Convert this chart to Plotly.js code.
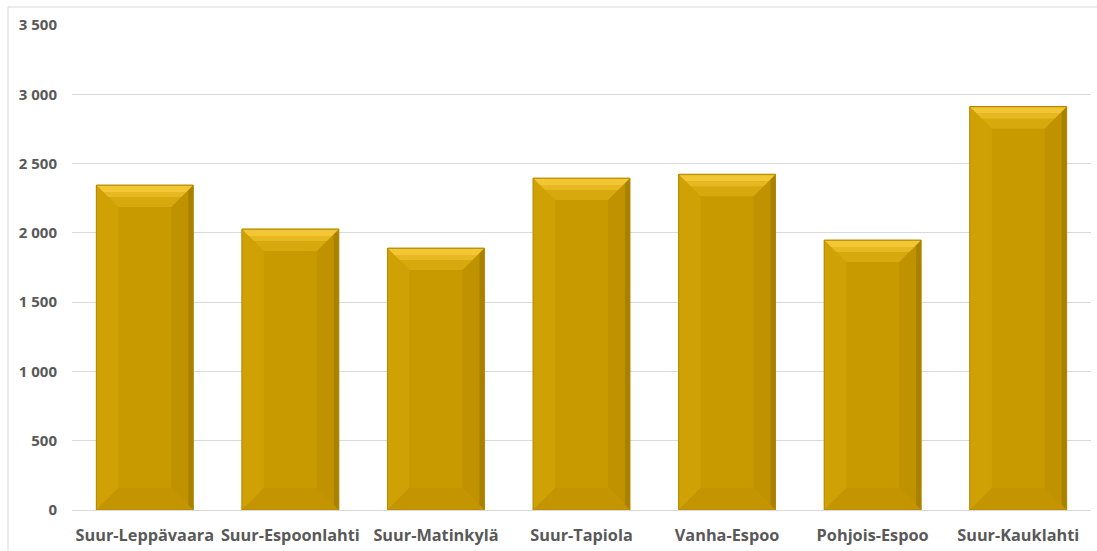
<!DOCTYPE html>
<html>
<head>
<meta charset="utf-8">
<script src="https://cdn.plot.ly/plotly-3.0.1.min.js"></script>
<style>html,body{margin:0;padding:0;background:#fff;}#chart{width:1097px;height:551px;}</style>
</head>
<body>
<div id="chart"></div>
<script>
const categories = ["Suur-Leppävaara", "Suur-Espoonlahti", "Suur-Matinkylä", "Suur-Tapiola", "Vanha-Espoo", "Pohjois-Espoo", "Suur-Kauklahti"];
const values = [2345, 2028, 1890, 2395, 2423, 1948, 2912];
const tickValues = [0, 500, 1000, 1500, 2000, 2500, 3000, 3500];
const tickLabels = ["0", "500", "1 000", "1 500", "2 000", "2 500", "3 000", "3 500"];

const W = 1097, H = 551;
const margin = {l: 72, r: 6, t: 25, b: 41};
const plotW = W - margin.l - margin.r;
const plotH = H - margin.t - margin.b;
const bargap = 0.334;
const halfW = plotW / categories.length * (1 - bargap) / 2;
const unitsPerPx = 3500 / plotH;
const bev = 22;

const shapes = [];
function addPath(i, path, fill, line) {
  shapes.push({type: 'path', xref: 'x', yref: 'y', xsizemode: 'pixel', xanchor: i,
    path: path, fillcolor: fill, line: line || {width: 0}, layer: 'above'});
}
values.forEach((v, i) => {
  const w = halfW;
  const by = bev * unitsPerPx;
  const u = unitsPerPx;
  addPath(i, `M ${-w},0 L ${-w},${v} L ${-w + bev},${v - by} L ${-w + bev},${by} Z`, '#D0A105');
  addPath(i, `M ${w},0 L ${w},${v} L ${w - bev},${v - by} L ${w - bev},${by} Z`, '#C19200');
  addPath(i, `M ${w},0 L ${w},${v} L ${w - 5},${v - 5 * u} L ${w - 5},${5 * u} Z`, '#A98100');
  addPath(i, `M ${-w},${v} L ${w},${v} L ${w - bev},${v - by} L ${-w + bev},${v - by} Z`, '#D8A90E');
  addPath(i, `M ${-w + 1},${v - 1 * u} L ${w - 1},${v - 1 * u} L ${w - 7},${v - 7 * u} L ${-w + 7},${v - 7 * u} Z`, '#F2C635');
  addPath(i, `M ${-w + 7},${v - 7 * u} L ${w - 7},${v - 7 * u} L ${w - 12},${v - 12 * u} L ${-w + 12},${v - 12 * u} Z`, '#E6B822');
  addPath(i, `M ${-w},0 L ${w},0 L ${w - bev},${by} L ${-w + bev},${by} Z`, '#C49500');
  addPath(i, `M ${-w},0 L ${-w},${v} L ${w},${v} L ${w},0 Z`, 'rgba(0,0,0,0)', {width: 1, color: '#B08900'});
});
// outer chart border (left and top)
const bx = (8 - margin.l) / plotW;
const byTop = 1 + (margin.t - 7) / plotH;
shapes.push({type: 'line', xref: 'paper', yref: 'paper', x0: bx, x1: bx, y0: -margin.b / plotH, y1: byTop, line: {color: '#D9D9D9', width: 1}});
shapes.push({type: 'line', xref: 'paper', yref: 'paper', x0: bx, x1: (W - margin.l) / plotW, y0: byTop, y1: byTop, line: {color: '#D9D9D9', width: 1}});

const trace = {
  type: 'bar',
  x: categories,
  y: values,
  marker: {color: '#C99A00', line: {width: 0}},
  hoverinfo: 'x+y'
};

const fam = '"Open Sans", Lato, sans-serif';
const layout = {
  width: W, height: H,
  margin: margin,
  paper_bgcolor: '#fff',
  plot_bgcolor: '#fff',
  bargap: bargap,
  showlegend: false,
  font: {family: fam, color: '#595959'},
  xaxis: {
    type: 'category',
    showgrid: false,
    showline: true, linecolor: '#D9D9D9', linewidth: 1,
    ticks: '',
    tickangle: 0,
    ticklabelstandoff: 10,
    tickfont: {size: 16.3, color: '#595959', family: fam, weight: 'bold'},
    fixedrange: true
  },
  yaxis: {
    range: [0, 3500],
    tickvals: tickValues,
    ticktext: tickLabels,
    showgrid: true, gridcolor: '#D9D9D9', gridwidth: 1,
    zeroline: false, showline: false,
    ticks: '',
    ticklabelstandoff: 14,
    tickfont: {size: 15, color: '#595959', family: fam, weight: 'bold'},
    fixedrange: true
  },
  shapes: shapes
};

Plotly.newPlot('chart', [trace], layout, {displayModeBar: false, staticPlot: true});
</script>
</body>
</html>
